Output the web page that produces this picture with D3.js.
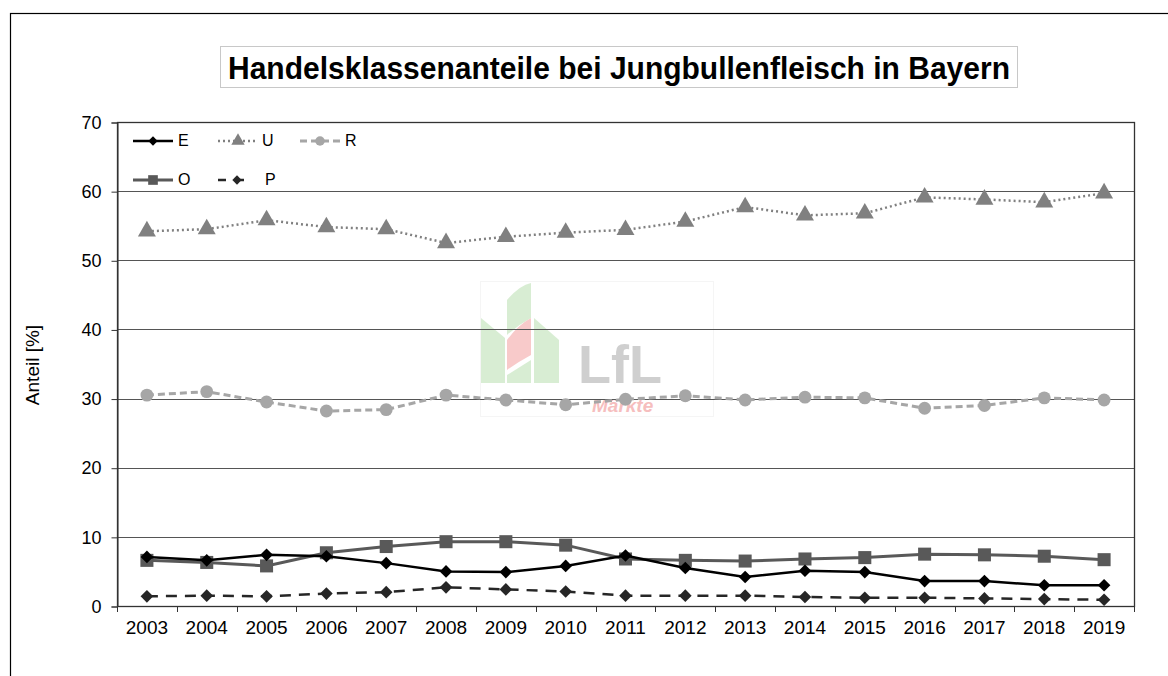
<!DOCTYPE html>
<html>
<head>
<meta charset="utf-8">
<script src="https://cdn.jsdelivr.net/npm/d3@7"></script>
<style>
  body { margin: 0; background: #fff; }
  svg { display: block; font-family: "Liberation Sans", Arial, sans-serif; }
</style>
</head>
<body>
<div id="chart"></div>
<script>
// years on the x axis
var years = ["2003","2004","2005","2006","2007","2008","2009","2010","2011",
             "2012","2013","2014","2015","2016","2017","2018","2019"];
// shares per class, percent
var valE = [7.1, 6.6, 7.4, 7.2, 6.2, 5.0, 4.9, 5.8, 7.3, 5.5, 4.2, 5.1, 4.9, 3.6, 3.6, 3.0, 3.0];
var valU = [54.2, 54.5, 55.8, 54.8, 54.5, 52.5, 53.4, 54.0, 54.4, 55.6, 57.7, 56.5, 56.8, 59.1, 58.8, 58.4, 59.7];
var valR = [30.5, 31.0, 29.5, 28.2, 28.4, 30.5, 29.8, 29.1, 29.9, 30.4, 29.8, 30.2, 30.1, 28.6, 29.0, 30.1, 29.8];
var valO = [6.6, 6.3, 5.8, 7.7, 8.6, 9.3, 9.3, 8.8, 6.8, 6.6, 6.5, 6.8, 7.0, 7.5, 7.4, 7.2, 6.7];
var valP = [1.4, 1.5, 1.4, 1.8, 2.0, 2.7, 2.4, 2.1, 1.5, 1.5, 1.5, 1.3, 1.2, 1.2, 1.1, 1.0, 0.9];
var yTicks = [0, 10, 20, 30, 40, 50, 60, 70];

(function() {
var series = [
  {name: "O", values: valO, color: "#595959", width: 3,   dash: null,   symbol: d3.symbolSquare,   size: 170, rot: 0,  fill: "#595959"},
  {name: "R", values: valR, color: "#a6a6a6", width: 3,   dash: "7,4",  symbol: d3.symbolCircle,   size: 130, rot: 0,  fill: "#a6a6a6"},
  {name: "U", values: valU, color: "#808080", width: 2.5, dash: "2,3",  symbol: d3.symbolTriangle, size: 140, rot: 0,  fill: "#808080"},
  {name: "P", values: valP, color: "#262626", width: 2.5, dash: "11,8", symbol: d3.symbolSquare,   size: 80,  rot: 45, fill: "#262626"},
  {name: "E", values: valE, color: "#000000", width: 2.5, dash: null,   symbol: d3.symbolSquare,   size: 80,  rot: 45, fill: "#000000"}
];

var width = 1168, height = 676;
var pLeft = 117, pRight = 1134, pTop = 122, pBottom = 606;

var svg = d3.select("#chart").append("svg")
    .attr("width", width)
    .attr("height", height);

// outer frame
svg.append("rect")
    .attr("x", 10.5).attr("y", 13.5)
    .attr("width", 1200).attr("height", 700)
    .attr("fill", "none").attr("stroke", "#000").attr("stroke-width", 1.2);

// title box
var tg = svg.append("g");
tg.append("rect")
    .attr("x", 220.5).attr("y", 46.5).attr("width", 797).attr("height", 41)
    .attr("fill", "#fff").attr("stroke", "#c8c8c8");
tg.append("text")
    .attr("x", 619).attr("y", 79)
    .attr("text-anchor", "middle")
    .attr("textLength", 782).attr("lengthAdjust", "spacingAndGlyphs")
    .style("font-size", "31px").style("font-weight", "bold")
    .text("Handelsklassenanteile bei Jungbullenfleisch in Bayern");

var x = d3.scaleBand().domain(years).range([pLeft, pRight]).paddingInner(0).paddingOuter(0);
var y = d3.scaleLinear().domain([0, 70]).range([pBottom, pTop]);
var cx = function(i) { return x(years[i]) + x.bandwidth() / 2; };

// watermark (LfL logo)
var wm = svg.append("g").attr("opacity", 0.55);
wm.append("rect").attr("x", 480.5).attr("y", 281.5).attr("width", 233).attr("height", 135)
    .attr("fill", "none").attr("stroke", "#eeeeee");
var leafG = "#b9e0b0", leafR = "#f3a0a0";
wm.append("path").attr("d", "M481,318 L505,338 L505,383 L481,383 Z").attr("fill", leafG);
wm.append("path").attr("d", "M507,300 Q520,285 531,283 L531,318 Q518,325 507,335 Z").attr("fill", leafG);
wm.append("path").attr("d", "M507,340 Q518,325 531,318 L531,355 Q518,362 507,370 Z").attr("fill", leafR);
wm.append("path").attr("d", "M507,375 L531,360 L531,383 L507,383 Z").attr("fill", leafG);
wm.append("path").attr("d", "M534,318 L559,340 L559,383 L534,383 Z").attr("fill", leafG);
wm.append("text").attr("x", 578).attr("y", 383)
    .style("font-size", "54px").style("font-weight", "bold").attr("fill", "#a8a8a8")
    .text("LfL");
wm.append("text").attr("x", 592).attr("y", 412)
    .style("font-size", "19px").style("font-style", "italic").style("font-weight", "bold")
    .attr("fill", "#f08a8a")
    .text("Märkte");

// grid lines
svg.append("g").selectAll("line").data(yTicks).enter().append("line")
    .attr("x1", pLeft).attr("x2", pRight)
    .attr("y1", function(d) { return Math.round(y(d)) + 0.5; })
    .attr("y2", function(d) { return Math.round(y(d)) + 0.5; })
    .attr("stroke", "#555").attr("stroke-width", 1);

// plot border
svg.append("rect")
    .attr("x", pLeft + 0.5).attr("y", pTop + 0.5)
    .attr("width", pRight - pLeft).attr("height", pBottom - pTop)
    .attr("fill", "none").attr("stroke", "#333").attr("stroke-width", 1.3);

// y axis
var yAxis = svg.append("g")
    .attr("transform", "translate(" + (pLeft + 0.5) + ",0.5)")
    .call(d3.axisLeft(y).tickValues(yTicks).tickSize(6).tickPadding(10));
yAxis.select(".domain").attr("stroke", "#333");
yAxis.selectAll(".tick line").attr("stroke", "#333");
yAxis.selectAll(".tick text").style("font-size", "18px").attr("fill", "#000");

// x axis: labels in the middle, ticks on category boundaries
var xAxis = svg.append("g")
    .attr("transform", "translate(0," + (pBottom + 0.5) + ")")
    .call(d3.axisBottom(x).tickSize(0).tickPadding(14));
xAxis.select(".domain").remove();
xAxis.selectAll(".tick text").style("font-size", "19px").attr("fill", "#000");
var bounds = years.map(function(d) { return x(d); }).concat([pRight]);
svg.append("g").selectAll("line").data(bounds).enter().append("line")
    .attr("x1", function(d) { return Math.round(d) + 0.5; })
    .attr("x2", function(d) { return Math.round(d) + 0.5; })
    .attr("y1", pBottom).attr("y2", pBottom + 6)
    .attr("stroke", "#333");

// y label
svg.append("text")
    .attr("transform", "translate(39," + ((pTop + pBottom) / 2 + 1) + ") rotate(-90)")
    .attr("text-anchor", "middle")
    .style("font-size", "19px")
    .text("Anteil [%]");

// lines and markers
var line = d3.line()
    .x(function(d, i) { return cx(i); })
    .y(function(d) { return y(d); });

series.forEach(function(s) {
  var g = svg.append("g").attr("class", "series_" + s.name);
  g.append("path")
      .attr("d", line(s.values))
      .attr("fill", "none")
      .attr("stroke", s.color)
      .attr("stroke-width", s.width)
      .attr("stroke-dasharray", s.dash);
  g.selectAll("path.mark").data(s.values).enter().append("path")
      .attr("class", "mark")
      .attr("d", d3.symbol().type(s.symbol).size(s.size))
      .attr("transform", function(d, i) { return "translate(" + cx(i) + "," + y(d) + ") rotate(" + s.rot + ")"; })
      .attr("fill", s.fill);
});

// legend
var legendItems = [
  {key: "E", lx: 133, ly: 141, len: 40, tx: 178},
  {key: "U", lx: 218, ly: 141, len: 40, tx: 262},
  {key: "R", lx: 300, ly: 141, len: 40, tx: 345},
  {key: "O", lx: 133, ly: 180, len: 40, tx: 178},
  {key: "P", lx: 218, ly: 180, len: 32, tx: 265}
];
var lg = svg.append("g");
legendItems.forEach(function(it) {
  var s = series.filter(function(d) { return d.name === it.key; })[0];
  lg.append("line")
      .attr("x1", it.lx).attr("x2", it.lx + it.len)
      .attr("y1", it.ly).attr("y2", it.ly)
      .attr("stroke", s.color).attr("stroke-width", s.width)
      .attr("stroke-dasharray", it.key === "P" ? "8,10" : s.dash);
  lg.append("path")
      .attr("d", d3.symbol().type(s.symbol).size(s.size * 0.55))
      .attr("transform", "translate(" + (it.lx + it.len / 2 + (it.key === "P" ? 3 : 0)) + "," + it.ly + ") rotate(" + s.rot + ")")
      .attr("fill", s.fill);
  lg.append("text")
      .attr("x", it.tx).attr("y", it.ly + 5)
      .style("font-size", "16px")
      .text(it.key);
});
})();
</script>
</body>
</html>
